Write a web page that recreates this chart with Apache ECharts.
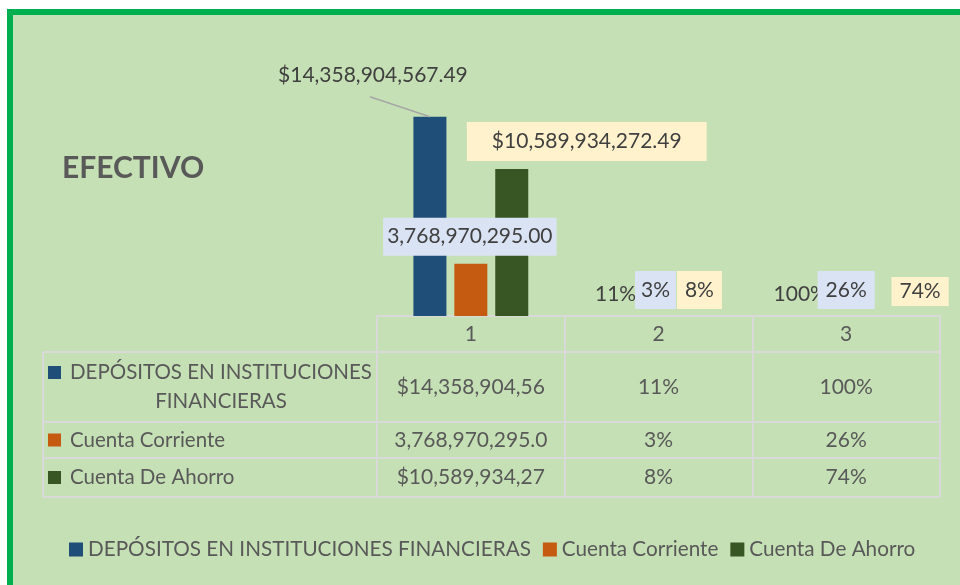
<!DOCTYPE html>
<html>
<head>
<meta charset="utf-8">
<title>EFECTIVO</title>
<script src="https://cdn.jsdelivr.net/npm/echarts@6/dist/echarts.min.js"></script>
</head>
<body style="margin:0;background:#fff">
<div id="chart" style="width:960px;height:585px;"></div>
<script>
// datos
var categories = ['1', '2', '3'];
var seriesNames = ['DEPÓSITOS EN INSTITUCIONES FINANCIERAS', 'Cuenta Corriente', 'Cuenta De Ahorro'];
var depositos = [14358904567.49, 0.11, 1.00];
var corriente = [3768970295.00, 0.03, 0.26];
var ahorro = [10589934272.49, 0.08, 0.74];
var prefixes = ['$', '', '$'];

// estilo
var colors = ['#1F4E79', '#C55A11', '#375623'];
var labelBg = [null, '#DAE3F3', '#FFF2CC'];
// desplazamiento de etiquetas [dx, dy] por serie y categoria
var labelMoves = [
	[[-57, -32], [-2, -12], [-5, -12]],
	[[-1, -8], [-3, -7], [0, -7]],
	[[75, -8], [0, -7], [33, -10]]
];
var labelPads = [
	[[0, 0], [0, 0], [0, 0]],
	[[9, 4], [9, 6], [9, 8]],
	[[9.5, 25], [9, 8], [4.5, 8]]
];

var font = 'Lato';
var plotLeft = 377, plotRight = 940, axisY = 316, tableLeft = 43;
var rowHeights = [36, 70, 36, 39];
var lineColor = '#D9D9D9';
var textColor = '#595959';

var allData = [depositos, corriente, ahorro];

function fmt(s, v) {
	if (v > 100) {
		return prefixes[s] + v.toLocaleString('en-US', { minimumFractionDigits: 2, maximumFractionDigits: 2 });
	}
	return Math.round(v * 100) + '%';
}

var ctx = document.createElement('canvas').getContext('2d');
function measure(t, size) {
	ctx.font = (size || 21) + 'px ' + font;
	return ctx.measureText(t).width;
}
function fitCell(t) {
	while (measure(t) > 158) t = t.slice(0, -1);
	return t;
}
// corte de palabras como en Excel
function wrap(t, w, size) {
	var words = t.split(' '), lines = [], cur = '';
	words.forEach(function (wd) {
		var test = cur ? cur + ' ' + wd : wd;
		if (cur && measure(test, size) > w) { lines.push(cur); cur = wd; }
		else cur = test;
	});
	lines.push(cur);
	return lines;
}

var series = allData.map(function (arr, s) {
	return {
		name: seriesNames[s],
		type: 'bar',
		barWidth: 33,
		barGap: '24%',
		itemStyle: { color: colors[s] },
		data: arr.map(function (v, i) {
			var p = labelPads[s][i];
			return {
				value: v,
				label: {
					show: true,
					position: 'top',
					distance: 0,
					formatter: fmt(s, v),
					color: '#404040',
					fontFamily: font,
					fontSize: 21,
					lineHeight: 20,
					backgroundColor: labelBg[s] || 'transparent',
					padding: [p[0], p[1]]
				}
			};
		}),
		labelLayout: function (params) {
			var m = labelMoves[params.seriesIndex][params.dataIndex];
			return { dx: m[0], dy: m[1] };
		}
	};
});

// tabla de datos
var graphics = [{
	type: 'rect', z: -10, silent: true,
	shape: { x: 10, y: 12, width: 1000, height: 1000 },
	style: { fill: '#C5E0B4', stroke: '#00B050', lineWidth: 6 }
}];
var y = axisY;
var rowTops = [];
rowHeights.forEach(function (h, r) {
	y += h;
	rowTops.push(y - h);
	graphics.push({
		type: 'line', z: 1, silent: true,
		shape: { x1: tableLeft, y1: y, x2: plotRight, y2: y },
		style: { stroke: lineColor, lineWidth: 2 }
	});
});
graphics.push({
	type: 'line', z: 1, silent: true,
	shape: { x1: tableLeft, y1: axisY + rowHeights[0], x2: tableLeft, y2: y },
	style: { stroke: lineColor, lineWidth: 2 }
});
var headSize = 20.5;
seriesNames.forEach(function (name, s) {
	var top = rowTops[s + 1], h = rowHeights[s + 1];
	var lines = wrap(name, 325, headSize);
	var wraps = lines.length > 1;
	var firstCenter = top + h / 2 - (lines.length - 1) * 29 / 2;
	graphics.push({
		type: 'rect', z: 1, silent: true,
		shape: { x: 48, y: firstCenter - 6.5, width: 13, height: 13 },
		style: { fill: colors[s] }
	});
	graphics.push({
		type: 'text', z: 1, silent: true,
		x: wraps ? 70 + measure(lines[0], headSize) / 2 : 70, y: top + h / 2,
		style: {
			text: lines.join('\n'),
			align: wraps ? 'center' : 'left', verticalAlign: 'middle',
			fontFamily: font, fontSize: headSize, lineHeight: 29, fill: textColor
		}
	});
});

var rich = { h: { lineHeight: rowHeights[0] } };
allData.forEach(function (arr, s) {
	rich['r' + s] = { lineHeight: rowHeights[s + 1] };
});
Object.keys(rich).forEach(function (k) {
	rich[k].fontFamily = font;
	rich[k].fontSize = 21;
	rich[k].color = textColor;
});

var myChart = echarts.init(document.getElementById('chart'));
var option = {
	backgroundColor: '#FFFFFF',
	animation: false,
	title: {
		text: 'EFECTIVO', left: 62, top: 153, padding: 0,
		textStyle: { fontFamily: font, fontSize: 30, fontWeight: 'bold', color: textColor }
	},
	legend: {
		data: seriesNames,
		left: 69, top: 539, padding: 0,
		itemWidth: 14, itemHeight: 14, itemGap: 12,
		icon: 'rect',
		textStyle: { fontFamily: font, fontSize: 20.7, color: textColor }
	},
	grid: { left: plotLeft, right: 960 - plotRight, top: 94, bottom: 585 - axisY, outerBoundsMode: 'none' },
	xAxis: {
		type: 'category',
		data: categories,
		axisLine: { lineStyle: { color: lineColor, width: 2 } },
		axisTick: { show: true, interval: 0, length: 181, lineStyle: { color: lineColor, width: 2 } },
		axisLabel: {
			interval: 0, margin: 0,
			formatter: function (value, index) {
				var lines = ['{h|' + value + '}'];
				allData.forEach(function (arr, s) {
					lines.push('{r' + s + '|' + fitCell(fmt(s, arr[index])) + '}');
				});
				return lines.join('\n');
			},
			rich: rich
		},
		splitLine: { show: false }
	},
	yAxis: { type: 'value', min: 0, max: 16000000000, show: false },
	graphic: graphics,
	series: series
};
myChart.setOption(option);

// linea guia de la etiqueta de la primera barra
var lay = myChart.getModel().getSeriesByIndex(0).getData().getItemLayout(0);
var bx = lay.x + lay.width / 2, by = Math.min(lay.y, lay.y + lay.height);
graphics.push({
	type: 'line', z: 5, silent: true,
	shape: { x1: bx + labelMoves[0][0][0] - 3, y1: by + labelMoves[0][0][1] + 12, x2: bx, y2: by },
	style: { stroke: '#A6A6A6', lineWidth: 1.5 }
});
myChart.setOption({ graphic: graphics });
</script>
</body>
</html>
